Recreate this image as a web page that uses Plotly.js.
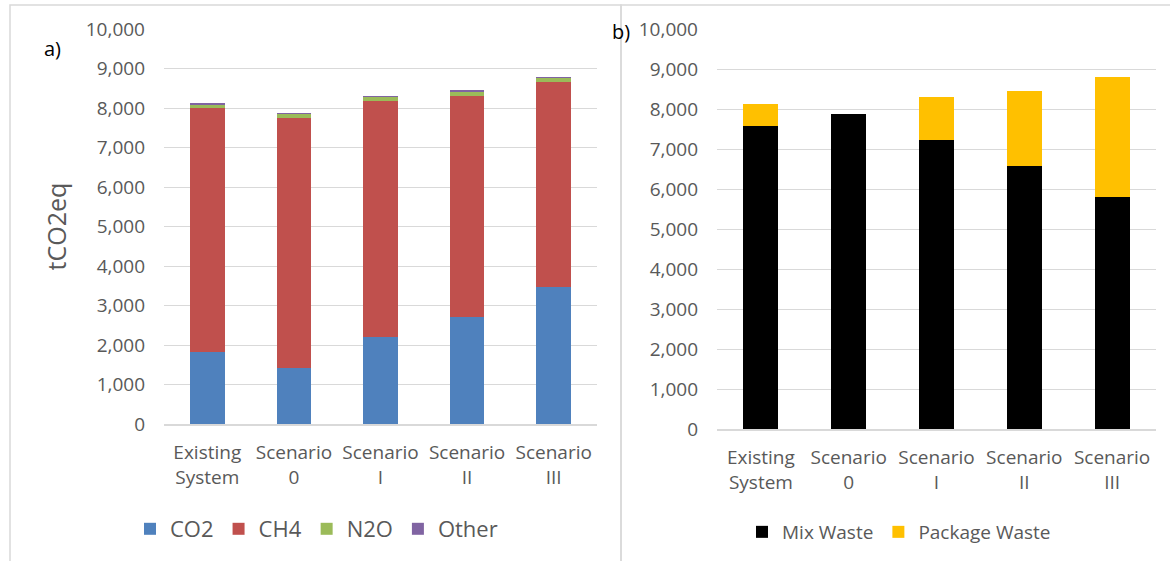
<!DOCTYPE html>
<html>
<head>
<meta charset="utf-8">
<script src="https://cdn.plot.ly/plotly-3.0.1.min.js"></script>
<style>html,body{margin:0;padding:0;background:#fff;}#chart{width:1170px;height:561px;}</style>
</head>
<body>
<div id="chart"></div>
<script>
var categories = ["Existing<br>System", "Scenario<br>0", "Scenario<br>I", "Scenario<br>II", "Scenario<br>III"];
// Panel a) emissions by gas (tCO2eq)
var co2   = [1830, 1430, 2195, 2710, 3460];
var ch4   = [6165, 6325, 5980, 5600, 5190];
var n2o   = [85, 100, 100, 100, 100];
var other = [50, 20, 25, 45, 40];
// Panel b) emissions by waste stream (tCO2eq)
var mixWaste     = [7585, 7875, 7225, 6575, 5795];
var packageWaste = [535, 0, 1085, 1880, 2995];
var yTicks = [0, 1000, 2000, 3000, 4000, 5000, 6000, 7000, 8000, 9000, 10000];

var W = 1170, H = 561;
function px(x){ return x / W; }
function py(y){ return 1 - y / H; }

var font = "Open Sans, Noto Sans, sans-serif";
var grey = "#595959";

function bar(name, y, color, xa, ya, legend){
  return {type:"bar", name:name, x:categories, y:y, xaxis:xa, yaxis:ya, legend:legend,
    marker:{color:color, line:{width:0}}, hoverinfo:"y+name"};
}

var data = [
  bar("CO2", co2, "#4F81BD", "x", "y", "legend"),
  bar("CH4", ch4, "#C0504D", "x", "y", "legend"),
  bar("N2O", n2o, "#9BBB59", "x", "y", "legend"),
  bar("Other", other, "#8064A2", "x", "y", "legend"),
  bar("Mix Waste", mixWaste, "#000000", "x2", "y2", "legend2"),
  bar("Package Waste", packageWaste, "#FFC000", "x2", "y2", "legend2")
];

function yAxis(domainBottom, anchor){
  return {domain:[domainBottom, py(29)], anchor:anchor, range:[0,10000], tickvals:yTicks,
    tickformat:",d", showgrid:true, gridcolor:"#d9d9d9", gridwidth:1, zeroline:false,
    showline:false, ticks:"", ticklabelstandoff:18,
    tickfont:{family:font, size:19, color:grey}, fixedrange:true};
}
function xAxis(d0, d1, anchor){
  return {domain:[d0, d1], anchor:anchor, type:"category", showline:true, linecolor:"#d9d9d9",
    linewidth:2, showgrid:false, ticks:"", ticklabelstandoff:10,
    tickfont:{family:font, size:19, color:grey}, fixedrange:true};
}

var layout = {
  width:W, height:H, margin:{l:0, r:0, t:0, b:0},
  paper_bgcolor:"#ffffff", plot_bgcolor:"#ffffff",
  barmode:"stack", bargap:0.6,
  font:{family:font, color:grey},
  xaxis: xAxis(px(164), px(597), "y"),
  yaxis: Object.assign(yAxis(py(424), "x"), {title:{text:"tCO2eq", font:{family:font, size:25, color:grey}, standoff:12}}),
  xaxis2: xAxis(px(717), px(1156), "y2"),
  yaxis2: yAxis(py(429), "x2"),
  legend:{orientation:"h", x:px(130), y:py(529), yanchor:"middle", xanchor:"left",
    font:{family:font, size:22, color:grey}, bgcolor:"rgba(0,0,0,0)", traceorder:"normal"},
  legend2:{orientation:"h", x:px(742), y:py(532), yanchor:"middle", xanchor:"left",
    font:{family:font, size:19, color:grey}, bgcolor:"rgba(0,0,0,0)", traceorder:"normal"},
  showlegend:true,
  annotations:[
    {text:"a)", xref:"paper", yref:"paper", x:px(52), y:py(48), xanchor:"center", yanchor:"middle",
     showarrow:false, font:{family:font, size:20, color:"#000000"}},
    {text:"b)", xref:"paper", yref:"paper", x:px(621), y:py(31), xanchor:"center", yanchor:"middle",
     showarrow:false, font:{family:font, size:20, color:"#000000"}}
  ],
  shapes:[
    {type:"rect", xref:"paper", yref:"paper", x0:px(10), x1:px(621), y0:py(570), y1:py(5),
     line:{color:"#d9d9d9", width:1.5}, layer:"below"},
    {type:"rect", xref:"paper", yref:"paper", x0:px(621), x1:px(1180), y0:py(570), y1:py(5),
     line:{color:"#d9d9d9", width:1.5}, layer:"below"}
  ]
};

Plotly.newPlot("chart", data, layout, {displayModeBar:false, staticPlot:true});
</script>
</body>
</html>
